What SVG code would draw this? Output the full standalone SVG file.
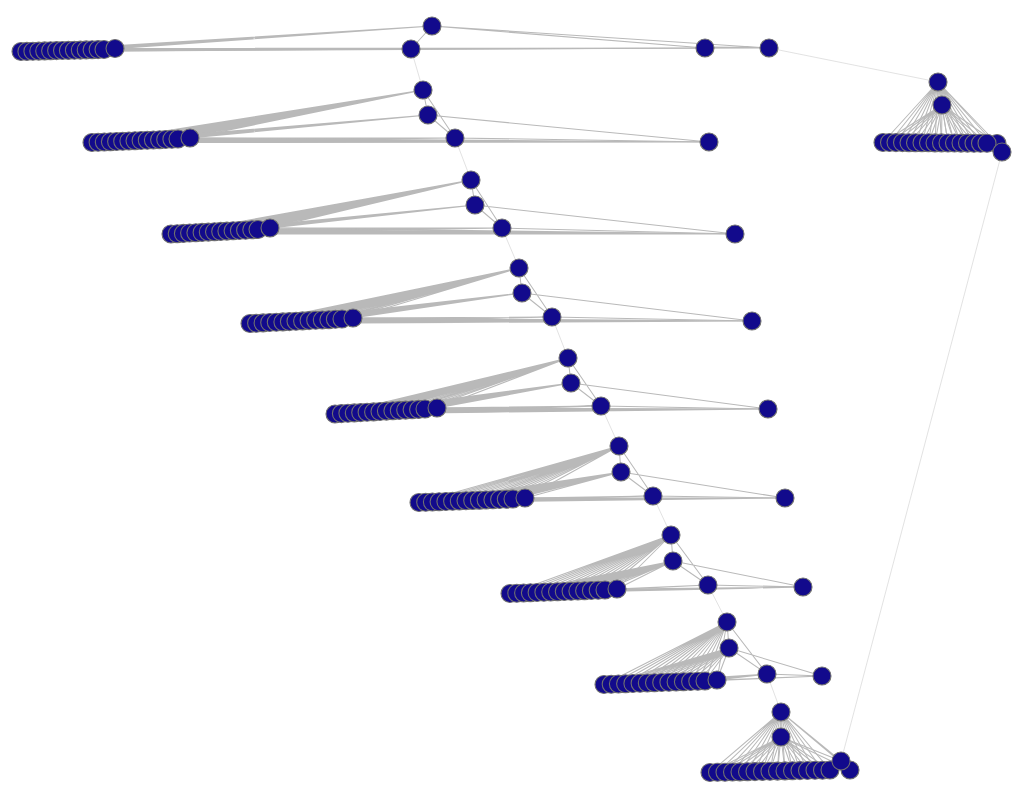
<svg xmlns="http://www.w3.org/2000/svg" width="1024" height="800" viewBox="0 0 1024 800">
<style>
.e{fill:none;stroke:#b9b9b9;stroke-width:1.05}
.t{fill:none;stroke:#d6d6d6;stroke-width:0.7}
circle{fill:#120a8c;stroke:#707070;stroke-width:1.1}
</style>
<rect width="1024" height="800" fill="#ffffff"/>
<g id="connectors">
<path class="t" d="M411 49L423 90M455 138L471 180M502 228L519 268M552 317L568 358M601 406L619 446M653 496L671 535M708 585L727 622M767 674L781 712M769 48L938 82M841 761L1002 152"/>
<!-- level 0 -->
<path class="e" d="M21 51.5L432 26M26.9 51.4L432 26M32.9 51.2L432 26M38.8 51.1L432 26M44.7 50.9L432 26M50.6 50.8L432 26M56.6 50.6L432 26M62.5 50.5L432 26M68.4 50.4L432 26M74.4 50.2L432 26M80.3 50.1L432 26M86.2 49.9L432 26M92.1 49.8L432 26M98.1 49.6L432 26M104 49.5L432 26M115 48.5L432 26"/>
<path class="e" d="M21 51.5L411 49M26.9 51.4L411 49M32.9 51.2L411 49M38.8 51.1L411 49M44.7 50.9L411 49M50.6 50.8L411 49M56.6 50.6L411 49M62.5 50.5L411 49M68.4 50.4L411 49M74.4 50.2L411 49M80.3 50.1L411 49M86.2 49.9L411 49M92.1 49.8L411 49M98.1 49.6L411 49M104 49.5L411 49M115 48.5L411 49"/>
<path class="e" d="M21 51.5L705 48M26.9 51.4L705 48M32.9 51.2L705 48M38.8 51.1L705 48M44.7 50.9L705 48M50.6 50.8L705 48M56.6 50.6L705 48M62.5 50.5L705 48M68.4 50.4L705 48M74.4 50.2L705 48M80.3 50.1L705 48M86.2 49.9L705 48M92.1 49.8L705 48M98.1 49.6L705 48M104 49.5L705 48M115 48.5L705 48"/>
<path class="e" d="M432 26L411 49M432 26L705 48M432 26L769 48M411 49L769 48M705 48L769 48M705 47L769 47.5"/>
<!-- level 1 -->
<path class="e" d="M92 142.5L423 90M98.1 142.3L423 90M104.3 142L423 90M110.4 141.8L423 90M116.6 141.5L423 90M122.7 141.3L423 90M128.9 141L423 90M135 140.8L423 90M141.1 140.5L423 90M147.3 140.3L423 90M153.4 140L423 90M159.6 139.8L423 90M165.7 139.5L423 90M171.9 139.3L423 90M178 139L423 90M190 138L423 90"/>
<path class="e" d="M92 142.5L428 115M98.1 142.3L428 115M104.3 142L428 115M110.4 141.8L428 115M116.6 141.5L428 115M122.7 141.3L428 115M128.9 141L428 115M135 140.8L428 115M141.1 140.5L428 115M147.3 140.3L428 115M153.4 140L428 115M159.6 139.8L428 115M165.7 139.5L428 115M171.9 139.3L428 115M178 139L428 115M190 138L428 115"/>
<path class="e" d="M92 142.5L455 138M98.1 142.3L455 138M104.3 142L455 138M110.4 141.8L455 138M116.6 141.5L455 138M122.7 141.3L455 138M128.9 141L455 138M135 140.8L455 138M141.1 140.5L455 138M147.3 140.3L455 138M153.4 140L455 138M159.6 139.8L455 138M165.7 139.5L455 138M171.9 139.3L455 138M178 139L455 138M190 138L455 138"/>
<path class="e" d="M92 142.5L709 142M98.1 142.3L709 142M104.3 142L709 142M110.4 141.8L709 142M116.6 141.5L709 142M122.7 141.3L709 142M128.9 141L709 142M135 140.8L709 142M141.1 140.5L709 142M147.3 140.3L709 142M153.4 140L709 142M159.6 139.8L709 142M165.7 139.5L709 142M171.9 139.3L709 142M178 139L709 142M190 138L709 142"/>
<path class="e" d="M423 90L428 115M423 90L455 138M428 115L455 138M428 115L709 142M455 138L709 142"/>
<!-- level 2 -->
<path class="e" d="M171 234L471 180M177.2 233.7L471 180M183.4 233.4L471 180M189.6 233L471 180M195.9 232.7L471 180M202.1 232.4L471 180M208.3 232.1L471 180M214.5 231.8L471 180M220.7 231.4L471 180M226.9 231.1L471 180M233.1 230.8L471 180M239.4 230.5L471 180M245.6 230.2L471 180M251.8 229.8L471 180M258 229.5L471 180M270 228L471 180"/>
<path class="e" d="M171 234L475 205M177.2 233.7L475 205M183.4 233.4L475 205M189.6 233L475 205M195.9 232.7L475 205M202.1 232.4L475 205M208.3 232.1L475 205M214.5 231.8L475 205M220.7 231.4L475 205M226.9 231.1L475 205M233.1 230.8L475 205M239.4 230.5L475 205M245.6 230.2L475 205M251.8 229.8L475 205M258 229.5L475 205M270 228L475 205"/>
<path class="e" d="M171 234L502 228M177.2 233.7L502 228M183.4 233.4L502 228M189.6 233L502 228M195.9 232.7L502 228M202.1 232.4L502 228M208.3 232.1L502 228M214.5 231.8L502 228M220.7 231.4L502 228M226.9 231.1L502 228M233.1 230.8L502 228M239.4 230.5L502 228M245.6 230.2L502 228M251.8 229.8L502 228M258 229.5L502 228M270 228L502 228"/>
<path class="e" d="M171 234L735 234M177.2 233.7L735 234M183.4 233.4L735 234M189.6 233L735 234M195.9 232.7L735 234M202.1 232.4L735 234M208.3 232.1L735 234M214.5 231.8L735 234M220.7 231.4L735 234M226.9 231.1L735 234M233.1 230.8L735 234M239.4 230.5L735 234M245.6 230.2L735 234M251.8 229.8L735 234M258 229.5L735 234M270 228L735 234"/>
<path class="e" d="M471 180L475 205M471 180L502 228M475 205L502 228M475 205L735 234M502 228L735 234"/>
<!-- level 3 -->
<path class="e" d="M250 323.5L519 268M256.6 323.2L519 268M263.1 322.9L519 268M269.7 322.5L519 268M276.3 322.2L519 268M282.9 321.9L519 268M289.4 321.6L519 268M296 321.3L519 268M302.6 320.9L519 268M309.1 320.6L519 268M315.7 320.3L519 268M322.3 320L519 268M328.9 319.7L519 268M335.4 319.3L519 268M342 319L519 268M353 318L519 268"/>
<path class="e" d="M250 323.5L522 293M256.6 323.2L522 293M263.1 322.9L522 293M269.7 322.5L522 293M276.3 322.2L522 293M282.9 321.9L522 293M289.4 321.6L522 293M296 321.3L522 293M302.6 320.9L522 293M309.1 320.6L522 293M315.7 320.3L522 293M322.3 320L522 293M328.9 319.7L522 293M335.4 319.3L522 293M342 319L522 293M353 318L522 293"/>
<path class="e" d="M250 323.5L552 317M256.6 323.2L552 317M263.1 322.9L552 317M269.7 322.5L552 317M276.3 322.2L552 317M282.9 321.9L552 317M289.4 321.6L552 317M296 321.3L552 317M302.6 320.9L552 317M309.1 320.6L552 317M315.7 320.3L552 317M322.3 320L552 317M328.9 319.7L552 317M335.4 319.3L552 317M342 319L552 317M353 318L552 317"/>
<path class="e" d="M250 323.5L752 321M256.6 323.2L752 321M263.1 322.9L752 321M269.7 322.5L752 321M276.3 322.2L752 321M282.9 321.9L752 321M289.4 321.6L752 321M296 321.3L752 321M302.6 320.9L752 321M309.1 320.6L752 321M315.7 320.3L752 321M322.3 320L752 321M328.9 319.7L752 321M335.4 319.3L752 321M342 319L752 321M353 318L752 321"/>
<path class="e" d="M519 268L522 293M519 268L552 317M522 293L552 317M522 293L752 321M552 317L752 321"/>
<!-- level 4 -->
<path class="e" d="M335 414L568 358M341.4 413.6L568 358M347.9 413.3L568 358M354.3 412.9L568 358M360.7 412.6L568 358M367.1 412.2L568 358M373.6 411.9L568 358M380 411.5L568 358M386.4 411.1L568 358M392.9 410.8L568 358M399.3 410.4L568 358M405.7 410.1L568 358M412.1 409.7L568 358M418.6 409.4L568 358M425 409L568 358M437 408L568 358"/>
<path class="e" d="M335 414L571 383M341.4 413.6L571 383M347.9 413.3L571 383M354.3 412.9L571 383M360.7 412.6L571 383M367.1 412.2L571 383M373.6 411.9L571 383M380 411.5L571 383M386.4 411.1L571 383M392.9 410.8L571 383M399.3 410.4L571 383M405.7 410.1L571 383M412.1 409.7L571 383M418.6 409.4L571 383M425 409L571 383M437 408L571 383"/>
<path class="e" d="M335 414L601 406M341.4 413.6L601 406M347.9 413.3L601 406M354.3 412.9L601 406M360.7 412.6L601 406M367.1 412.2L601 406M373.6 411.9L601 406M380 411.5L601 406M386.4 411.1L601 406M392.9 410.8L601 406M399.3 410.4L601 406M405.7 410.1L601 406M412.1 409.7L601 406M418.6 409.4L601 406M425 409L601 406M437 408L601 406"/>
<path class="e" d="M335 414L768 409M341.4 413.6L768 409M347.9 413.3L768 409M354.3 412.9L768 409M360.7 412.6L768 409M367.1 412.2L768 409M373.6 411.9L768 409M380 411.5L768 409M386.4 411.1L768 409M392.9 410.8L768 409M399.3 410.4L768 409M405.7 410.1L768 409M412.1 409.7L768 409M418.6 409.4L768 409M425 409L768 409M437 408L768 409"/>
<path class="e" d="M568 358L571 383M568 358L601 406M571 383L601 406M571 383L768 409M601 406L768 409"/>
<!-- level 5 -->
<path class="e" d="M419 502.5L619 446M425.7 502.3L619 446M432.4 502L619 446M439.1 501.8L619 446M445.9 501.5L619 446M452.6 501.3L619 446M459.3 501L619 446M466 500.8L619 446M472.7 500.5L619 446M479.4 500.3L619 446M486.1 500L619 446M492.9 499.8L619 446M499.6 499.5L619 446M506.3 499.3L619 446M513 499L619 446M525 498L619 446"/>
<path class="e" d="M419 502.5L621 472M425.7 502.3L621 472M432.4 502L621 472M439.1 501.8L621 472M445.9 501.5L621 472M452.6 501.3L621 472M459.3 501L621 472M466 500.8L621 472M472.7 500.5L621 472M479.4 500.3L621 472M486.1 500L621 472M492.9 499.8L621 472M499.6 499.5L621 472M506.3 499.3L621 472M513 499L621 472M525 498L621 472"/>
<path class="e" d="M419 502.5L653 496M425.7 502.3L653 496M432.4 502L653 496M439.1 501.8L653 496M445.9 501.5L653 496M452.6 501.3L653 496M459.3 501L653 496M466 500.8L653 496M472.7 500.5L653 496M479.4 500.3L653 496M486.1 500L653 496M492.9 499.8L653 496M499.6 499.5L653 496M506.3 499.3L653 496M513 499L653 496M525 498L653 496"/>
<path class="e" d="M419 502.5L785 498M425.7 502.3L785 498M432.4 502L785 498M439.1 501.8L785 498M445.9 501.5L785 498M452.6 501.3L785 498M459.3 501L785 498M466 500.8L785 498M472.7 500.5L785 498M479.4 500.3L785 498M486.1 500L785 498M492.9 499.8L785 498M499.6 499.5L785 498M506.3 499.3L785 498M513 499L785 498M525 498L785 498"/>
<path class="e" d="M619 446L621 472M619 446L653 496M621 472L653 496M621 472L785 498M653 496L785 498"/>
<!-- level 6 -->
<path class="e" d="M510 593.5L671 535M516.8 593.3L671 535M523.6 593L671 535M530.4 592.8L671 535M537.1 592.5L671 535M543.9 592.3L671 535M550.7 592L671 535M557.5 591.8L671 535M564.3 591.5L671 535M571.1 591.3L671 535M577.9 591L671 535M584.6 590.8L671 535M591.4 590.5L671 535M598.2 590.3L671 535M605 590L671 535M617 589L671 535"/>
<path class="e" d="M510 593.5L673 561M516.8 593.3L673 561M523.6 593L673 561M530.4 592.8L673 561M537.1 592.5L673 561M543.9 592.3L673 561M550.7 592L673 561M557.5 591.8L673 561M564.3 591.5L673 561M571.1 591.3L673 561M577.9 591L673 561M584.6 590.8L673 561M591.4 590.5L673 561M598.2 590.3L673 561M605 590L673 561M617 589L673 561"/>
<path class="e" d="M510 593.5L708 585M516.8 593.3L708 585M523.6 593L708 585M530.4 592.8L708 585M537.1 592.5L708 585M543.9 592.3L708 585M550.7 592L708 585M557.5 591.8L708 585M564.3 591.5L708 585M571.1 591.3L708 585M577.9 591L708 585M584.6 590.8L708 585M591.4 590.5L708 585M598.2 590.3L708 585M605 590L708 585M617 589L708 585"/>
<path class="e" d="M510 593.5L803 587M516.8 593.3L803 587M523.6 593L803 587M530.4 592.8L803 587M537.1 592.5L803 587M543.9 592.3L803 587M550.7 592L803 587M557.5 591.8L803 587M564.3 591.5L803 587M571.1 591.3L803 587M577.9 591L803 587M584.6 590.8L803 587M591.4 590.5L803 587M598.2 590.3L803 587M605 590L803 587M617 589L803 587"/>
<path class="e" d="M671 535L673 561M671 535L708 585M673 561L708 585M673 561L803 587M708 585L803 587"/>
<!-- level 7 -->
<path class="e" d="M604 684.5L727 622M611.2 684.3L727 622M618.4 684L727 622M625.6 683.8L727 622M632.9 683.5L727 622M640.1 683.3L727 622M647.3 683L727 622M654.5 682.8L727 622M661.7 682.5L727 622M668.9 682.3L727 622M676.1 682L727 622M683.4 681.8L727 622M690.6 681.5L727 622M697.8 681.3L727 622M705 681L727 622M717 680L727 622"/>
<path class="e" d="M604 684.5L729 648M611.2 684.3L729 648M618.4 684L729 648M625.6 683.8L729 648M632.9 683.5L729 648M640.1 683.3L729 648M647.3 683L729 648M654.5 682.8L729 648M661.7 682.5L729 648M668.9 682.3L729 648M676.1 682L729 648M683.4 681.8L729 648M690.6 681.5L729 648M697.8 681.3L729 648M705 681L729 648M717 680L729 648"/>
<path class="e" d="M604 684.5L767 674M611.2 684.3L767 674M618.4 684L767 674M625.6 683.8L767 674M632.9 683.5L767 674M640.1 683.3L767 674M647.3 683L767 674M654.5 682.8L767 674M661.7 682.5L767 674M668.9 682.3L767 674M676.1 682L767 674M683.4 681.8L767 674M690.6 681.5L767 674M697.8 681.3L767 674M705 681L767 674M717 680L767 674"/>
<path class="e" d="M604 684.5L822 676M611.2 684.3L822 676M618.4 684L822 676M625.6 683.8L822 676M632.9 683.5L822 676M640.1 683.3L822 676M647.3 683L822 676M654.5 682.8L822 676M661.7 682.5L822 676M668.9 682.3L822 676M676.1 682L822 676M683.4 681.8L822 676M690.6 681.5L822 676M697.8 681.3L822 676M705 681L822 676M717 680L822 676"/>
<path class="e" d="M727 622L729 648M727 622L767 674M729 648L767 674M729 648L822 676M767 674L822 676"/>
<!-- level 8 -->
<path class="e" d="M710 772.5L781 712M717.5 772.3L781 712M725 772.2L781 712M732.5 772L781 712M740 771.9L781 712M747.5 771.7L781 712M755 771.6L781 712M762.5 771.4L781 712M770 771.3L781 712M777.5 771.1L781 712M785 770.9L781 712M792.5 770.8L781 712M800 770.6L781 712M807.5 770.5L781 712M815 770.3L781 712M822.5 770.2L781 712M830 770L781 712"/>
<path class="e" d="M710 772.5L781 737M717.5 772.3L781 737M725 772.2L781 737M732.5 772L781 737M740 771.9L781 737M747.5 771.7L781 737M755 771.6L781 737M762.5 771.4L781 737M770 771.3L781 737M777.5 771.1L781 737M785 770.9L781 737M792.5 770.8L781 737M800 770.6L781 737M807.5 770.5L781 737M815 770.3L781 737M822.5 770.2L781 737M830 770L781 737"/>
<path class="e" d="M710 772.5L841 761M725 772.2L841 761M740 771.9L841 761M755 771.6L841 761M770 771.3L841 761M785 770.9L841 761M800 770.6L841 761"/>
<path class="e" d="M781 712L781 737M781 712L841 761M781 712L850 770M781 737L841 761M781 737L850 770"/>
<!-- right cluster -->
<path class="e" d="M883 142.5L938 82M889.5 142.5L938 82M896 142.6L938 82M902.5 142.6L938 82M909 142.7L938 82M915.5 142.7L938 82M922 142.8L938 82M928.5 142.8L938 82M935 142.9L938 82M941.5 142.9L938 82M948 143L938 82M954.5 143L938 82M961 143.1L938 82M967.5 143.1L938 82M974 143.2L938 82M980.5 143.2L938 82M987 143.3L938 82M997 143.5L938 82M1002 152L938 82"/>
<path class="e" d="M883 142.5L942 105M889.5 142.5L942 105M896 142.6L942 105M902.5 142.6L942 105M909 142.7L942 105M915.5 142.7L942 105M922 142.8L942 105M928.5 142.8L942 105M935 142.9L942 105M941.5 142.9L942 105M948 143L942 105M954.5 143L942 105M961 143.1L942 105M967.5 143.1L942 105M974 143.2L942 105M980.5 143.2L942 105M987 143.3L942 105M997 143.5L942 105M938 82L942 105"/>
</g>
<g id="nodes">
<g id="l0-a"><circle cx="432" cy="26" r="9"/></g>
<g id="l0-b"><circle cx="411" cy="49" r="9"/></g>
<g id="l0-d1"><circle cx="705" cy="48" r="9"/></g>
<g id="l0-d2"><circle cx="769" cy="48" r="9"/></g>
<g id="l0-r0"><circle cx="21" cy="51.5" r="9"/></g>
<g id="l0-r1"><circle cx="26.9" cy="51.4" r="9"/></g>
<g id="l0-r2"><circle cx="32.9" cy="51.2" r="9"/></g>
<g id="l0-r3"><circle cx="38.8" cy="51.1" r="9"/></g>
<g id="l0-r4"><circle cx="44.7" cy="50.9" r="9"/></g>
<g id="l0-r5"><circle cx="50.6" cy="50.8" r="9"/></g>
<g id="l0-r6"><circle cx="56.6" cy="50.6" r="9"/></g>
<g id="l0-r7"><circle cx="62.5" cy="50.5" r="9"/></g>
<g id="l0-r8"><circle cx="68.4" cy="50.4" r="9"/></g>
<g id="l0-r9"><circle cx="74.4" cy="50.2" r="9"/></g>
<g id="l0-r10"><circle cx="80.3" cy="50.1" r="9"/></g>
<g id="l0-r11"><circle cx="86.2" cy="49.9" r="9"/></g>
<g id="l0-r12"><circle cx="92.1" cy="49.8" r="9"/></g>
<g id="l0-r13"><circle cx="98.1" cy="49.6" r="9"/></g>
<g id="l0-r14"><circle cx="104" cy="49.5" r="9"/></g>
<g id="l0-r15"><circle cx="115" cy="48.5" r="9"/></g>

<g id="l1-a"><circle cx="423" cy="90" r="9"/></g>
<g id="l1-b"><circle cx="428" cy="115" r="9"/></g>
<g id="l1-c"><circle cx="455" cy="138" r="9"/></g>
<g id="l1-d"><circle cx="709" cy="142" r="9"/></g>
<g id="l1-r0"><circle cx="92" cy="142.5" r="9"/></g>
<g id="l1-r1"><circle cx="98.1" cy="142.3" r="9"/></g>
<g id="l1-r2"><circle cx="104.3" cy="142" r="9"/></g>
<g id="l1-r3"><circle cx="110.4" cy="141.8" r="9"/></g>
<g id="l1-r4"><circle cx="116.6" cy="141.5" r="9"/></g>
<g id="l1-r5"><circle cx="122.7" cy="141.3" r="9"/></g>
<g id="l1-r6"><circle cx="128.9" cy="141" r="9"/></g>
<g id="l1-r7"><circle cx="135" cy="140.8" r="9"/></g>
<g id="l1-r8"><circle cx="141.1" cy="140.5" r="9"/></g>
<g id="l1-r9"><circle cx="147.3" cy="140.3" r="9"/></g>
<g id="l1-r10"><circle cx="153.4" cy="140" r="9"/></g>
<g id="l1-r11"><circle cx="159.6" cy="139.8" r="9"/></g>
<g id="l1-r12"><circle cx="165.7" cy="139.5" r="9"/></g>
<g id="l1-r13"><circle cx="171.9" cy="139.3" r="9"/></g>
<g id="l1-r14"><circle cx="178" cy="139" r="9"/></g>
<g id="l1-r15"><circle cx="190" cy="138" r="9"/></g>

<g id="l2-a"><circle cx="471" cy="180" r="9"/></g>
<g id="l2-b"><circle cx="475" cy="205" r="9"/></g>
<g id="l2-c"><circle cx="502" cy="228" r="9"/></g>
<g id="l2-d"><circle cx="735" cy="234" r="9"/></g>
<g id="l2-r0"><circle cx="171" cy="234" r="9"/></g>
<g id="l2-r1"><circle cx="177.2" cy="233.7" r="9"/></g>
<g id="l2-r2"><circle cx="183.4" cy="233.4" r="9"/></g>
<g id="l2-r3"><circle cx="189.6" cy="233" r="9"/></g>
<g id="l2-r4"><circle cx="195.9" cy="232.7" r="9"/></g>
<g id="l2-r5"><circle cx="202.1" cy="232.4" r="9"/></g>
<g id="l2-r6"><circle cx="208.3" cy="232.1" r="9"/></g>
<g id="l2-r7"><circle cx="214.5" cy="231.8" r="9"/></g>
<g id="l2-r8"><circle cx="220.7" cy="231.4" r="9"/></g>
<g id="l2-r9"><circle cx="226.9" cy="231.1" r="9"/></g>
<g id="l2-r10"><circle cx="233.1" cy="230.8" r="9"/></g>
<g id="l2-r11"><circle cx="239.4" cy="230.5" r="9"/></g>
<g id="l2-r12"><circle cx="245.6" cy="230.2" r="9"/></g>
<g id="l2-r13"><circle cx="251.8" cy="229.8" r="9"/></g>
<g id="l2-r14"><circle cx="258" cy="229.5" r="9"/></g>
<g id="l2-r15"><circle cx="270" cy="228" r="9"/></g>

<g id="l3-a"><circle cx="519" cy="268" r="9"/></g>
<g id="l3-b"><circle cx="522" cy="293" r="9"/></g>
<g id="l3-c"><circle cx="552" cy="317" r="9"/></g>
<g id="l3-d"><circle cx="752" cy="321" r="9"/></g>
<g id="l3-r0"><circle cx="250" cy="323.5" r="9"/></g>
<g id="l3-r1"><circle cx="256.6" cy="323.2" r="9"/></g>
<g id="l3-r2"><circle cx="263.1" cy="322.9" r="9"/></g>
<g id="l3-r3"><circle cx="269.7" cy="322.5" r="9"/></g>
<g id="l3-r4"><circle cx="276.3" cy="322.2" r="9"/></g>
<g id="l3-r5"><circle cx="282.9" cy="321.9" r="9"/></g>
<g id="l3-r6"><circle cx="289.4" cy="321.6" r="9"/></g>
<g id="l3-r7"><circle cx="296" cy="321.3" r="9"/></g>
<g id="l3-r8"><circle cx="302.6" cy="320.9" r="9"/></g>
<g id="l3-r9"><circle cx="309.1" cy="320.6" r="9"/></g>
<g id="l3-r10"><circle cx="315.7" cy="320.3" r="9"/></g>
<g id="l3-r11"><circle cx="322.3" cy="320" r="9"/></g>
<g id="l3-r12"><circle cx="328.9" cy="319.7" r="9"/></g>
<g id="l3-r13"><circle cx="335.4" cy="319.3" r="9"/></g>
<g id="l3-r14"><circle cx="342" cy="319" r="9"/></g>
<g id="l3-r15"><circle cx="353" cy="318" r="9"/></g>

<g id="l4-a"><circle cx="568" cy="358" r="9"/></g>
<g id="l4-b"><circle cx="571" cy="383" r="9"/></g>
<g id="l4-c"><circle cx="601" cy="406" r="9"/></g>
<g id="l4-d"><circle cx="768" cy="409" r="9"/></g>
<g id="l4-r0"><circle cx="335" cy="414" r="9"/></g>
<g id="l4-r1"><circle cx="341.4" cy="413.6" r="9"/></g>
<g id="l4-r2"><circle cx="347.9" cy="413.3" r="9"/></g>
<g id="l4-r3"><circle cx="354.3" cy="412.9" r="9"/></g>
<g id="l4-r4"><circle cx="360.7" cy="412.6" r="9"/></g>
<g id="l4-r5"><circle cx="367.1" cy="412.2" r="9"/></g>
<g id="l4-r6"><circle cx="373.6" cy="411.9" r="9"/></g>
<g id="l4-r7"><circle cx="380" cy="411.5" r="9"/></g>
<g id="l4-r8"><circle cx="386.4" cy="411.1" r="9"/></g>
<g id="l4-r9"><circle cx="392.9" cy="410.8" r="9"/></g>
<g id="l4-r10"><circle cx="399.3" cy="410.4" r="9"/></g>
<g id="l4-r11"><circle cx="405.7" cy="410.1" r="9"/></g>
<g id="l4-r12"><circle cx="412.1" cy="409.7" r="9"/></g>
<g id="l4-r13"><circle cx="418.6" cy="409.4" r="9"/></g>
<g id="l4-r14"><circle cx="425" cy="409" r="9"/></g>
<g id="l4-r15"><circle cx="437" cy="408" r="9"/></g>

<g id="l5-a"><circle cx="619" cy="446" r="9"/></g>
<g id="l5-b"><circle cx="621" cy="472" r="9"/></g>
<g id="l5-c"><circle cx="653" cy="496" r="9"/></g>
<g id="l5-d"><circle cx="785" cy="498" r="9"/></g>
<g id="l5-r0"><circle cx="419" cy="502.5" r="9"/></g>
<g id="l5-r1"><circle cx="425.7" cy="502.3" r="9"/></g>
<g id="l5-r2"><circle cx="432.4" cy="502" r="9"/></g>
<g id="l5-r3"><circle cx="439.1" cy="501.8" r="9"/></g>
<g id="l5-r4"><circle cx="445.9" cy="501.5" r="9"/></g>
<g id="l5-r5"><circle cx="452.6" cy="501.3" r="9"/></g>
<g id="l5-r6"><circle cx="459.3" cy="501" r="9"/></g>
<g id="l5-r7"><circle cx="466" cy="500.8" r="9"/></g>
<g id="l5-r8"><circle cx="472.7" cy="500.5" r="9"/></g>
<g id="l5-r9"><circle cx="479.4" cy="500.3" r="9"/></g>
<g id="l5-r10"><circle cx="486.1" cy="500" r="9"/></g>
<g id="l5-r11"><circle cx="492.9" cy="499.8" r="9"/></g>
<g id="l5-r12"><circle cx="499.6" cy="499.5" r="9"/></g>
<g id="l5-r13"><circle cx="506.3" cy="499.3" r="9"/></g>
<g id="l5-r14"><circle cx="513" cy="499" r="9"/></g>
<g id="l5-r15"><circle cx="525" cy="498" r="9"/></g>

<g id="l6-a"><circle cx="671" cy="535" r="9"/></g>
<g id="l6-b"><circle cx="673" cy="561" r="9"/></g>
<g id="l6-c"><circle cx="708" cy="585" r="9"/></g>
<g id="l6-d"><circle cx="803" cy="587" r="9"/></g>
<g id="l6-r0"><circle cx="510" cy="593.5" r="9"/></g>
<g id="l6-r1"><circle cx="516.8" cy="593.3" r="9"/></g>
<g id="l6-r2"><circle cx="523.6" cy="593" r="9"/></g>
<g id="l6-r3"><circle cx="530.4" cy="592.8" r="9"/></g>
<g id="l6-r4"><circle cx="537.1" cy="592.5" r="9"/></g>
<g id="l6-r5"><circle cx="543.9" cy="592.3" r="9"/></g>
<g id="l6-r6"><circle cx="550.7" cy="592" r="9"/></g>
<g id="l6-r7"><circle cx="557.5" cy="591.8" r="9"/></g>
<g id="l6-r8"><circle cx="564.3" cy="591.5" r="9"/></g>
<g id="l6-r9"><circle cx="571.1" cy="591.3" r="9"/></g>
<g id="l6-r10"><circle cx="577.9" cy="591" r="9"/></g>
<g id="l6-r11"><circle cx="584.6" cy="590.8" r="9"/></g>
<g id="l6-r12"><circle cx="591.4" cy="590.5" r="9"/></g>
<g id="l6-r13"><circle cx="598.2" cy="590.3" r="9"/></g>
<g id="l6-r14"><circle cx="605" cy="590" r="9"/></g>
<g id="l6-r15"><circle cx="617" cy="589" r="9"/></g>

<g id="l7-a"><circle cx="727" cy="622" r="9"/></g>
<g id="l7-b"><circle cx="729" cy="648" r="9"/></g>
<g id="l7-c"><circle cx="767" cy="674" r="9"/></g>
<g id="l7-d"><circle cx="822" cy="676" r="9"/></g>
<g id="l7-r0"><circle cx="604" cy="684.5" r="9"/></g>
<g id="l7-r1"><circle cx="611.2" cy="684.3" r="9"/></g>
<g id="l7-r2"><circle cx="618.4" cy="684" r="9"/></g>
<g id="l7-r3"><circle cx="625.6" cy="683.8" r="9"/></g>
<g id="l7-r4"><circle cx="632.9" cy="683.5" r="9"/></g>
<g id="l7-r5"><circle cx="640.1" cy="683.3" r="9"/></g>
<g id="l7-r6"><circle cx="647.3" cy="683" r="9"/></g>
<g id="l7-r7"><circle cx="654.5" cy="682.8" r="9"/></g>
<g id="l7-r8"><circle cx="661.7" cy="682.5" r="9"/></g>
<g id="l7-r9"><circle cx="668.9" cy="682.3" r="9"/></g>
<g id="l7-r10"><circle cx="676.1" cy="682" r="9"/></g>
<g id="l7-r11"><circle cx="683.4" cy="681.8" r="9"/></g>
<g id="l7-r12"><circle cx="690.6" cy="681.5" r="9"/></g>
<g id="l7-r13"><circle cx="697.8" cy="681.3" r="9"/></g>
<g id="l7-r14"><circle cx="705" cy="681" r="9"/></g>
<g id="l7-r15"><circle cx="717" cy="680" r="9"/></g>

<g id="l8-a"><circle cx="781" cy="712" r="9"/></g>
<g id="l8-b"><circle cx="781" cy="737" r="9"/></g>
<g id="l8-r0"><circle cx="710" cy="772.5" r="9"/></g>
<g id="l8-r1"><circle cx="717.5" cy="772.3" r="9"/></g>
<g id="l8-r2"><circle cx="725" cy="772.2" r="9"/></g>
<g id="l8-r3"><circle cx="732.5" cy="772" r="9"/></g>
<g id="l8-r4"><circle cx="740" cy="771.9" r="9"/></g>
<g id="l8-r5"><circle cx="747.5" cy="771.7" r="9"/></g>
<g id="l8-r6"><circle cx="755" cy="771.6" r="9"/></g>
<g id="l8-r7"><circle cx="762.5" cy="771.4" r="9"/></g>
<g id="l8-r8"><circle cx="770" cy="771.3" r="9"/></g>
<g id="l8-r9"><circle cx="777.5" cy="771.1" r="9"/></g>
<g id="l8-r10"><circle cx="785" cy="770.9" r="9"/></g>
<g id="l8-r11"><circle cx="792.5" cy="770.8" r="9"/></g>
<g id="l8-r12"><circle cx="800" cy="770.6" r="9"/></g>
<g id="l8-r13"><circle cx="807.5" cy="770.5" r="9"/></g>
<g id="l8-r14"><circle cx="815" cy="770.3" r="9"/></g>
<g id="l8-r15"><circle cx="822.5" cy="770.2" r="9"/></g>
<g id="l8-r16"><circle cx="830" cy="770" r="9"/></g>
<g id="l8-f"><circle cx="850" cy="770" r="9"/></g>
<g id="l8-e"><circle cx="841" cy="761" r="9"/></g>

<g id="rc-a"><circle cx="938" cy="82" r="9"/></g>
<g id="rc-b"><circle cx="942" cy="105" r="9"/></g>
<g id="rc-r0"><circle cx="883" cy="142.5" r="9"/></g>
<g id="rc-r1"><circle cx="889.5" cy="142.5" r="9"/></g>
<g id="rc-r2"><circle cx="896" cy="142.6" r="9"/></g>
<g id="rc-r3"><circle cx="902.5" cy="142.6" r="9"/></g>
<g id="rc-r4"><circle cx="909" cy="142.7" r="9"/></g>
<g id="rc-r5"><circle cx="915.5" cy="142.7" r="9"/></g>
<g id="rc-r6"><circle cx="922" cy="142.8" r="9"/></g>
<g id="rc-r7"><circle cx="928.5" cy="142.8" r="9"/></g>
<g id="rc-r8"><circle cx="935" cy="142.9" r="9"/></g>
<g id="rc-r9"><circle cx="941.5" cy="142.9" r="9"/></g>
<g id="rc-r10"><circle cx="948" cy="143" r="9"/></g>
<g id="rc-r11"><circle cx="954.5" cy="143" r="9"/></g>
<g id="rc-r12"><circle cx="961" cy="143.1" r="9"/></g>
<g id="rc-r13"><circle cx="967.5" cy="143.1" r="9"/></g>
<g id="rc-r14"><circle cx="974" cy="143.2" r="9"/></g>
<g id="rc-r15"><circle cx="980.5" cy="143.2" r="9"/></g>
<g id="rc-r17"><circle cx="997" cy="143.5" r="9"/></g>
<g id="rc-r16"><circle cx="987" cy="143.3" r="9"/></g>
<g id="rc-g"><circle cx="1002" cy="152" r="9"/></g>
</g>
</svg>
